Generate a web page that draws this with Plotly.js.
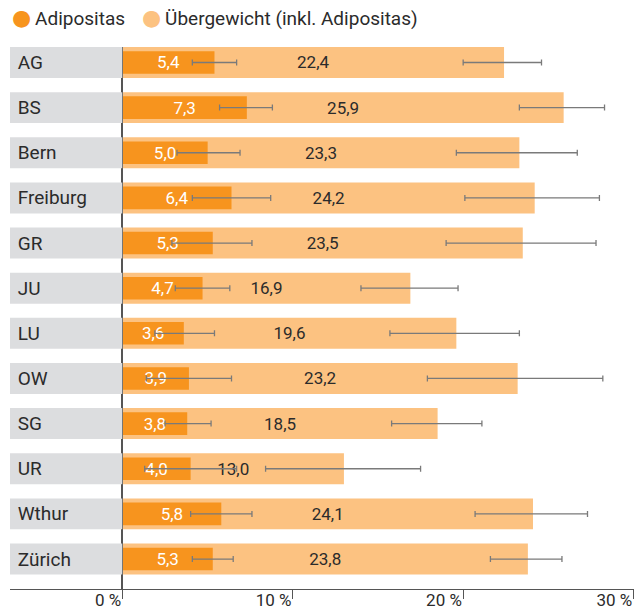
<!DOCTYPE html>
<html>
<head>
<meta charset="utf-8">
<script src="https://cdn.plot.ly/plotly-3.0.1.min.js"></script>
<style>html,body{margin:0;padding:0;background:#fff;} #chart{width:640px;height:611px;}</style>
</head>
<body>
<div id="chart"></div>
<script>
const regions = ['AG','BS','Bern','Freiburg','GR','JU','LU','OW','SG','UR','Wthur','Zürich'];
const adipositas = [5.4,7.3,5.0,6.4,5.3,4.7,3.6,3.9,3.8,4.0,5.8,5.3];
const adipLow  = [4.1,5.7,3.2,4.1,2.9,3.1,1.9,1.4,2.5,1.3,4.0,4.1];
const adipHigh = [6.7,8.8,6.9,8.7,7.6,6.3,5.4,6.4,5.2,6.7,7.6,6.5];
const uebergewicht = [22.4,25.9,23.3,24.2,23.5,16.9,19.6,23.2,18.5,13.0,24.1,23.8];
const uebLow  = [20.0,23.3,19.6,20.1,19.0,14.0,15.7,17.9,15.8,8.4,20.7,21.6];
const uebHigh = [24.6,28.3,26.7,28.0,27.8,19.7,23.3,28.2,21.1,17.5,27.3,25.8];
const tickVals = [0,10,20,30];
const tickLabels = ['0 %','10 %','20 %','30 %'];
const seriesNames = ['Adipositas','Übergewicht (inkl. Adipositas)'];

const DARK = '#F7941E', LIGHT = '#FCC281', GREY = '#DCDDDF', INK = '#2B2B2B', ERR = '#7A7A7A', LINE = '#555555';
const FONT = 'Roboto, "DejaVu Sans", sans-serif';
const FS = 17, FSL = 19;

const band = {
  type: 'bar', orientation: 'h', y: regions, x: regions.map(() => 1),
  xaxis: 'x2', yaxis: 'y', width: 0.686, marker: {color: GREY},
  texttemplate: '\u00a0%{y}', textposition: 'inside', insidetextanchor: 'start',
  insidetextfont: {color: INK, size: FSL, family: FONT}, constraintext: 'none',
  hoverinfo: 'skip', showlegend: false
};
const light = {
  type: 'bar', orientation: 'h', y: regions, x: uebergewicht, width: 0.686,
  marker: {color: LIGHT}, name: seriesNames[1], showlegend: false,
  texttemplate: '%{x:.1f}', textposition: 'inside', insidetextanchor: 'middle',
  insidetextfont: {color: INK, size: FS, family: FONT}, constraintext: 'none',
  error_x: {type: 'data', symmetric: false,
    array: uebHigh.map((h, i) => h - uebergewicht[i]),
    arrayminus: uebLow.map((l, i) => uebergewicht[i] - l),
    color: ERR, thickness: 1.3, width: 3}
};
const dark = {
  type: 'bar', orientation: 'h', y: regions, x: adipositas, width: 0.5,
  marker: {color: DARK}, name: seriesNames[0], showlegend: false,
  texttemplate: '%{x:.1f}', textposition: 'inside', insidetextanchor: 'middle',
  insidetextfont: {color: '#FFFFFF', size: FS, family: FONT}, constraintext: 'none',
  error_x: {type: 'data', symmetric: false,
    array: adipHigh.map((h, i) => h - adipositas[i]),
    arrayminus: adipLow.map((l, i) => adipositas[i] - l),
    color: ERR, thickness: 1.3, width: 3}
};

const split = (122.5 - 10) / 624;
const legendNote = (color, label, x) => ({
  xref: 'paper', yref: 'paper', x: x, y: 1 + (46.7 - 17) / 541.6, xanchor: 'left', yanchor: 'middle',
  showarrow: false, align: 'left',
  text: '<span style="color:' + color + ';font-size:22px">●</span>\u2009' + label,
  font: {size: FSL, color: INK, family: FONT}
});
const layout = {
  width: 640, height: 611,
  margin: {l: 10, r: 6, t: 46.7, b: 21.7},
  paper_bgcolor: '#fff', plot_bgcolor: '#fff',
  font: {family: FONT, size: FS, color: INK},
  separators: ',.',
  barmode: 'overlay',
  showlegend: false,
  annotations: [
    legendNote(DARK, seriesNames[0], (10 - 10) / 624),
    legendNote(LIGHT, seriesNames[1], (140 - 10) / 624)
  ],
  xaxis: {domain: [split, 1], range: [0, 30.03], anchor: 'y', tickvals: tickVals, ticktext: tickLabels,
    ticks: 'outside', ticklen: 9, tickwidth: 1.3, tickcolor: LINE, showline: true, linecolor: LINE, linewidth: 1.3,
    showgrid: false, zeroline: false, ticklabelposition: 'outside left', ticklabelstandoff: -5,
    tickfont: {size: FS, color: INK}, fixedrange: true},
  xaxis2: {domain: [0, split], range: [0, 1], anchor: 'y', showline: true, linecolor: LINE, linewidth: 1.3,
    showticklabels: false, ticks: '', showgrid: false, zeroline: false, fixedrange: true},
  yaxis: {type: 'category', categoryorder: 'array', categoryarray: regions, range: [11.664, -0.343],
    anchor: 'x', showline: true, linecolor: LINE, linewidth: 1.3, showticklabels: false, ticks: '',
    showgrid: false, zeroline: false, fixedrange: true}
};
Plotly.newPlot('chart', [band, light, dark], layout, {displayModeBar: false, staticPlot: true});
</script>
</body>
</html>
